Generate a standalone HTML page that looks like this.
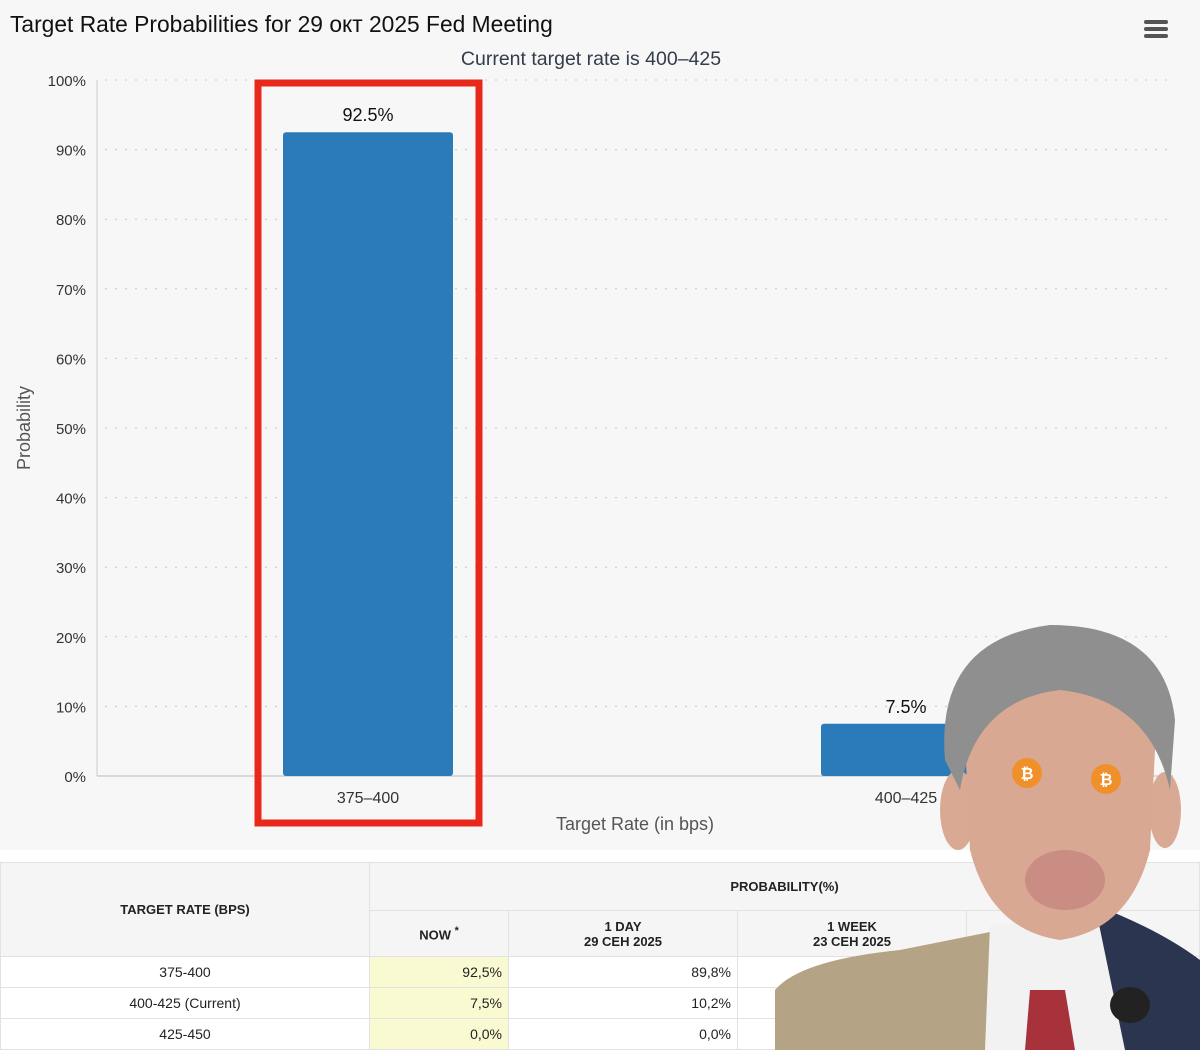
<!DOCTYPE html>
<html><head><meta charset="utf-8"><style>
body{margin:0;width:1200px;height:1050px;overflow:hidden;background:#fff;font-family:"Liberation Sans",sans-serif;position:relative}
#chart{position:absolute;left:0;top:0;width:1200px;height:850px;background:#f7f7f7}
table{position:absolute;left:0;top:862px;width:1200px;border-collapse:collapse;font-size:14px;color:#222}
td,th{border:1px solid #e2e2e2;height:30px;padding:0 6px}
th{background:#f5f5f5;font-weight:bold;font-size:13px}
.now{background:#fafad2;text-align:right}
.r{text-align:right}
</style></head><body>
<svg id="chart" width="1200" height="850" font-family="Liberation Sans, DejaVu Sans, sans-serif"></svg>
<table>
<tr style="height:48px"><th rowspan="2" style="width:356px">TARGET RATE (BPS)</th><th colspan="4">PROBABILITY(%)</th></tr>
<tr style="height:46px"><th style="width:126px">NOW <sup>*</sup></th><th style="width:216px">1 DAY<br>29 CEH 2025</th><th style="width:216px">1 WEEK<br>23 CEH 2025</th><th></th></tr>
<tr><td style="text-align:center">375-400</td><td class="now">92,5%</td><td class="r">89,8%</td><td></td><td></td></tr>
<tr><td style="text-align:center">400-425 (Current)</td><td class="now">7,5%</td><td class="r">10,2%</td><td></td><td></td></tr>
<tr><td style="text-align:center">425-450</td><td class="now">0,0%</td><td class="r">0,0%</td><td></td><td></td></tr>
</table>
<svg width="1200" height="1050" style="position:absolute;left:0;top:0">
<path d="M775 990 Q800 960 900 950 L1000 930 L1010 1050 L775 1050Z" fill="#b5a386"/>
<path d="M990 925 L1110 915 L1130 1050 L985 1050Z" fill="#f2f2f2"/>
<path d="M1095 905 Q1160 930 1200 960 L1200 1050 L1125 1050Z" fill="#2c3550"/>
<path d="M1030 990 L1065 990 L1075 1050 L1025 1050Z" fill="#a8323c"/>
<ellipse cx="958" cy="810" rx="18" ry="40" fill="#d9a994"/>
<ellipse cx="1165" cy="810" rx="16" ry="38" fill="#d9a994"/>
<path d="M965 740 Q970 680 1060 675 Q1150 680 1155 750 L1150 850 Q1130 930 1060 940 Q990 930 970 850Z" fill="#d8a893"/>
<path d="M945 760 Q935 640 1050 625 Q1165 625 1175 720 L1170 790 Q1150 700 1060 690 Q975 700 960 790Z" fill="#8f8f8f"/>
<ellipse cx="1065" cy="880" rx="40" ry="30" fill="#c98d83"/>
<circle cx="1027" cy="773" r="15" fill="#f0902a"/><text x="1027" y="779" text-anchor="middle" font-size="16" font-weight="bold" fill="#fff">₿</text>
<circle cx="1106" cy="779" r="15" fill="#f0902a"/><text x="1106" y="785" text-anchor="middle" font-size="16" font-weight="bold" fill="#fff">₿</text>
<ellipse cx="1130" cy="1005" rx="20" ry="18" fill="#222"/>
</svg>
<script>
const categories=["375-400","400-425"];
const values=[92.5,7.5];
const yTicks=[0,10,20,30,40,50,60,70,80,90,100];
const NS="http://www.w3.org/2000/svg";
const svg=document.getElementById('chart');
const L=99,R=1175,T=80,B=776;
const y=v=>B-(B-T)*v/100;
const band=(R-L)/categories.length;
const x=i=>L+band*(i+0.5);
function mk(t,a,txt){const e=document.createElementNS(NS,t);for(const k in a)e.setAttribute(k,a[k]);if(txt!=null)e.textContent=txt;svg.appendChild(e);return e;}
let e;
e=mk('text',{x:10,y:32,'font-size':22.8,fill:'#111'},'Target Rate Probabilities for 29 окт 2025 Fed Meeting');

e=mk('text',{x:591,y:65,'font-size':19.5,fill:'#333c4a','text-anchor':'middle'},'Current target rate is 400–425');

e=mk('g',{});
[22,29,36].forEach(yy=>{const r=document.createElementNS(NS,'rect');r.setAttribute('x',1144);r.setAttribute('y',yy-2);r.setAttribute('width',24);r.setAttribute('height',4);r.setAttribute('rx',2);r.setAttribute('fill','#555');e.appendChild(r);});
yTicks.forEach(t=>{
 if(t>0){e=mk('line',{x1:97+8,x2:1173,y1:y(t),y2:y(t),stroke:'#c8c8c8','stroke-dasharray':'2 8'});}
 e=mk('text',{x:86,y:y(t)+6,'font-size':15,fill:'#333','text-anchor':'end'},t+'%');
 
});
e=mk('line',{x1:97,x2:97,y1:T,y2:B,stroke:'#ccc'});
e=mk('line',{x1:97,x2:1173,y1:B,y2:B,stroke:'#bbb'});
e=mk('text',{x:30,y:428,'font-size':18,fill:'#555','text-anchor':'middle',transform:'rotate(-90 30 428)'},'Probability');

e=mk('text',{x:635,y:830,'font-size':18,fill:'#555','text-anchor':'middle'},'Target Rate (in bps)');

categories.forEach((c,i)=>{
 const w=170;
 e=mk('rect',{x:x(i)-w/2,y:y(values[i]),width:w,height:B-y(values[i]),fill:'#2b7bba',rx:3});
 
 e=mk('text',{x:x(i),y:y(values[i])-11,'font-size':18,fill:'#111','text-anchor':'middle'},values[i]+'%');
 
 e=mk('text',{x:x(i),y:803,'font-size':16,fill:'#333','text-anchor':'middle'},c.replace('-','–'));
 
});
e=mk('rect',{x:258,y:83,width:221,height:740,fill:'none',stroke:'#e8281a','stroke-width':7});

</script>
</body></html>
